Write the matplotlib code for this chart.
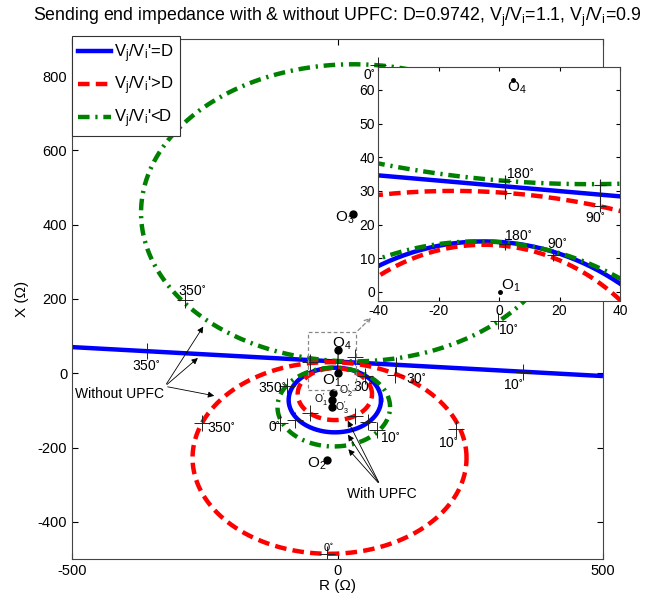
import numpy as np
import matplotlib
matplotlib.use("Agg")
import matplotlib.pyplot as plt
from matplotlib.lines import Line2D
from matplotlib.patches import Rectangle

plt.rcParams["font.family"] = ["Liberation Sans", "DejaVu Sans"]
plt.rcParams["mathtext.default"] = "regular"
plt.rcParams["axes.unicode_minus"] = False

# impedance loci, circles given as (centre R, centre X, radius) in ohms
red_without = (-15, -228, 258)
green_without = (30, 432, 400)
blue_with = (-5, -72, 87)
red_with = (-5, -56, 70)
green_with = (-7, -91, 106)
# V_j/V_i' = D gives a straight line
blue_line_r = [-500, 500]
blue_line_x = [70.5, -7.5]

# angle markers on the main plot (R, X)
mark_r = [76, -287, 302, -358, 349, 111, -256, 224, -20, 108,
          -96, -108, 74, 52, -52, 33, 57, -80, 33, -52]
mark_x = [830, 198, 140, 59, 4, 23, -134, -150, -486, -4,
          -33, -134, -154, -8, -108, -115, -131, -125, 43, 30]
# angle labels: (text, R, X) of lower-left corner
angle_labels = [("0", 48, 792), ("350", -300, 210), ("10", 302, 105),
                ("350", -387, 8), ("10", 312, -43), ("30", 129, -27),
                ("350", -246, -159), ("10", 189, -199), ("350", -150, -51),
                ("0", -131, -156), ("10", 80, -186), ("30", 30, -49)]
bottom_label = ("0", -27, -478)

# centres O (R, X)
o_pts_r = [1.5, 0, -8, -11, -11, -19, 29]
o_pts_x = [63, 1, -53, -71, -92, -233, 430]

# inset data
inset_mark_r = [2, 2, 2, 33.5, 33.5, 33.5, 2, 18]
inset_mark_x = [33, 31.7, 29.5, 31.8, 28.8, 25.6, 14.3, 11]


def circle(c, n=600):
    t = np.linspace(0, 2 * np.pi, n)
    return c[0] + c[2] * np.cos(t), c[1] + c[2] * np.sin(t)


BLUE = "#0000ff"
RED = "#ff0000"
GREEN = "#008000"
LW = 3.2
DASH = (0, (2.6, 1.4))
DASHDOT = (0, (2.6, 1.3, 0.5, 1.3))


def draw_loci(ax):
    ax.plot(blue_line_r, blue_line_x, color=BLUE, lw=LW, solid_capstyle="butt")
    ax.plot(*circle(green_without), color=GREEN, lw=LW, ls=DASHDOT)
    ax.plot(*circle(red_without), color=RED, lw=LW, ls=DASH)
    ax.plot(*circle(blue_with), color=BLUE, lw=LW)
    ax.plot(*circle(red_with), color=RED, lw=LW, ls=DASH)
    ax.plot(*circle(green_with), color=GREEN, lw=LW, ls=DASHDOT)


fig = plt.figure(figsize=(6.63, 6.02), dpi=100)
ax = fig.add_axes([72 / 663, 43 / 602, 531 / 663, 520 / 602])
draw_loci(ax)

ax.plot(mark_r, mark_x, ls="none", marker="+", ms=12, mew=0.7, color="#222222")
deg = r"$^{\circ}$"
for txt, r, x in angle_labels:
    ax.text(r, x, txt + deg, fontsize=10, ha="left", va="baseline")
ax.text(bottom_label[1], bottom_label[2], bottom_label[0] + deg, fontsize=8,
        ha="left", va="baseline")

# centres
ax.plot([o_pts_r[0], o_pts_r[1]], [o_pts_x[0], o_pts_x[1]], color="k", lw=0.8)
ax.plot(o_pts_r, o_pts_x, ls="none", marker="o", ms=5, color="k")
ax.text(-10, 70, "O$_4$", fontsize=11)
ax.text(-30, -30, "O$_1$", fontsize=11)
ax.text(3, -57, "O$_2'$", fontsize=7.5)
ax.text(-44, -80, "O$_1'$", fontsize=7.5)
ax.text(-4, -102, "O$_3'$", fontsize=7.5)
ax.text(-58, -255, "O$_2$", fontsize=11)
ax.text(-4, 408, "O$_3$", fontsize=11)

# zoom box and pointer
ax.add_patch(Rectangle((-55, -44), 90, 154, fill=False, ec="#888888",
                       ls=(0, (3, 2)), lw=0.9, zorder=5))
ax.annotate("", xy=(67, 155), xytext=(35, 110),
            arrowprops=dict(arrowstyle="->", color="#888888", lw=0.9,
                            ls=(0, (3, 2))))

# annotations
arrow = dict(arrowstyle="-|>", color="k", lw=0.6, mutation_scale=9)
ax.text(-494, -57, "Without UPFC", fontsize=10, va="center", ha="left")
for tx, ty in [(-250, 132), (-259, 46), (-227, -62)]:
    ax.annotate("", xy=(tx, ty), xytext=(-325, -35), arrowprops=arrow)
ax.text(17, -326, "With UPFC", fontsize=10, va="center", ha="left")
for tx, ty in [(17, -121), (17, -159), (17, -199)]:
    ax.annotate("", xy=(tx, ty), xytext=(80, -300), arrowprops=arrow)

ax.set_xlim(-500, 500)
ax.set_ylim(-500, 900)
ax.set_xticks([-500, 0, 500])
ax.set_yticks(range(-400, 801, 200))
ax.tick_params(direction="in", top=True, right=True, labelsize=10.5, length=4)
for s in ax.spines.values():
    s.set_color("#444444")
ax.set_xlabel("R (\u03a9)", fontsize=11, labelpad=1)
ax.set_ylabel("X (\u03a9)", fontsize=11, labelpad=6)
fig.suptitle("Sending end impedance with & without UPFC: D=0.9742, "
             "V$_j$/V$_i$=1.1, V$_j$/V$_i$=0.9", x=337.5 / 663, y=0.99,
             fontsize=12.8)

handles = [Line2D([], [], color=BLUE, lw=LW),
           Line2D([], [], color=RED, lw=LW, ls=DASH),
           Line2D([], [], color=GREEN, lw=LW, ls=DASHDOT)]
labels = ["V$_j$/V$_i$'=D", "V$_j$/V$_i$'>D", "V$_j$/V$_i$'<D"]
leg = ax.legend(handles, labels, loc="upper left", bbox_to_anchor=(0, 1.005),
                borderaxespad=0, fancybox=False, edgecolor="#333333",
                fontsize=12, handlelength=2.0, handletextpad=0.2,
                labelspacing=0.6, borderpad=0.35, framealpha=1)
leg.get_frame().set_linewidth(0.8)

# inset
ins = fig.add_axes([378 / 663, 301 / 602, 242 / 663, 234 / 602])
draw_loci(ins)
ins.plot(inset_mark_r, inset_mark_x, ls="none", marker="+", ms=8, mew=0.8,
         color="#222222")
ins.text(2.2, 33.8, "180" + deg, fontsize=10)
ins.text(28.5, 20.8, "90" + deg, fontsize=10)
ins.text(1.7, 15.4, "180" + deg, fontsize=10)
ins.text(16, 13, "90" + deg, fontsize=10)
ins.plot([4.5], [63], marker="o", ms=2.5, color="k")
ins.text(2.5, 59.5, "O$_4$", fontsize=11)
ins.plot([0.3], [0], marker="o", ms=2.5, color="k")
ins.text(0.8, 0.6, "O$_1$", fontsize=11)
ins.set_xlim(-40, 40)
ins.set_ylim(-2.7, 66.8)
ins.set_xticks([-40, -20, 0, 20, 40])
ins.set_yticks(range(0, 61, 10))
ins.tick_params(direction="in", top=True, right=True, labelsize=10, length=3,
                pad=2)
for s in ins.spines.values():
    s.set_color("#444444")

fig.savefig("out.png", dpi=100)
